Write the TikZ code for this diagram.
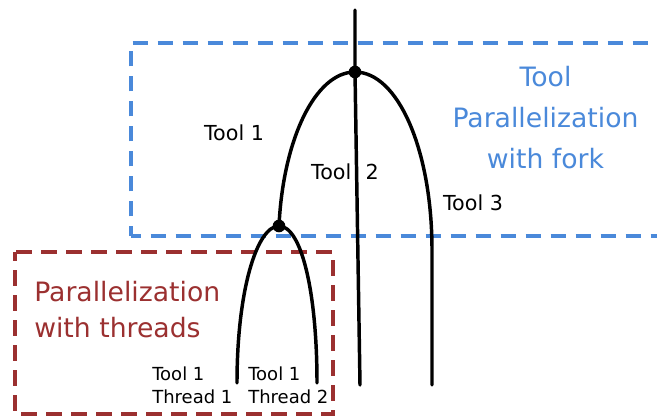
\documentclass[tikz,border=0pt]{standalone}
\usepackage{fontspec}
\setmainfont{DejaVu Sans}
\definecolor{forkblue}{RGB}{74,137,218}
\definecolor{threadred}{RGB}{155,48,48}

\begin{document}
\begin{tikzpicture}[x=0.75pt,y=0.75pt,yscale=-1,xscale=1,
  tool/.style={line width=2.6pt,line cap=round},
  forkdot/.style={circle,fill=black,inner sep=0pt,minimum size=9.5pt},
  groupbox/.style={line width=2.7pt},
  toollabel/.style={inner sep=0pt,font=\fontsize{15.5}{18}\selectfont},
  threadlabel/.style={inner sep=0pt,anchor=west,align=left,font=\fontsize{13.5}{17}\selectfont},
  grouplabel/.style={inner sep=0pt,font=\fontsize{20}{30}\selectfont}]
\useasboundingbox (0,0) rectangle (657,419);

%Shape: Rectangle [fork group, open on the right]
\draw [groupbox,forkblue,dash pattern={on 11.25pt off 7.5pt},dash phase=4pt] (131,236) -- (131,43) -- (662,43) ;
\draw [groupbox,forkblue,dash pattern={on 11.25pt off 7.5pt},dash phase=4pt] (131,236) -- (662,236) ;
%Shape: Rectangle [thread group]
\draw [groupbox,threadred,dash pattern={on 12pt off 6.75pt},dash phase=5pt] (15,252) rectangle (333,414) ;

% Fork points and tool ends
\node [forkdot] (fork) at (355,72) {};
\node [forkdot] (thread) at (279,226) {};
\coordinate (start) at (355,10);
\coordinate (end2) at (360,385);
\coordinate (end3) at (432,385);
\coordinate (end1a) at (237,383);
\coordinate (end1b) at (317,383);

%Straight Lines [tool 2]
\draw [tool] (start) -- (fork.center) -- (end2) ;
%Curve Lines [tool 1]
\draw [tool] (fork.center) .. controls (315,72) and (283,140) .. (thread.center) ;
%Curve Lines [tool 3]
\draw [tool] (fork.center) .. controls (398,72) and (432,150) .. (432,250) -- (end3) ;
%Curve Lines [threads]
\draw [tool] (thread.center) .. controls (257,226) and (237,290) .. (end1a) ;
\draw [tool] (thread.center) .. controls (301,226) and (317,290) .. (end1b) ;

% Text Node
\node [toollabel] (t1) at (234,133) {Tool 1};
% Text Node
\node [toollabel] (t2) at (345,172) {Tool\hskip0.7em 2};
% Text Node
\node [toollabel] (t3) at (473,203) {Tool 3};
% Text Node
\node [threadlabel] (th1) at (152,385) {Tool 1\\Thread 1};
% Text Node
\node [threadlabel] (th2) at (248,385) {Tool 1\\Thread 2};
% Text Node
\node [grouplabel,forkblue,align=center,font=\fontsize{20}{30.75}\selectfont] (forklabel) at (545.5,118) {Tool\\Parallelization\\with fork};
% Text Node
\node [grouplabel,threadred,anchor=west,align=left,font=\fontsize{20}{27}\selectfont] (threadlabel) at (34,309.5) {Parallelization\\with threads};

\end{tikzpicture}
\end{document}
